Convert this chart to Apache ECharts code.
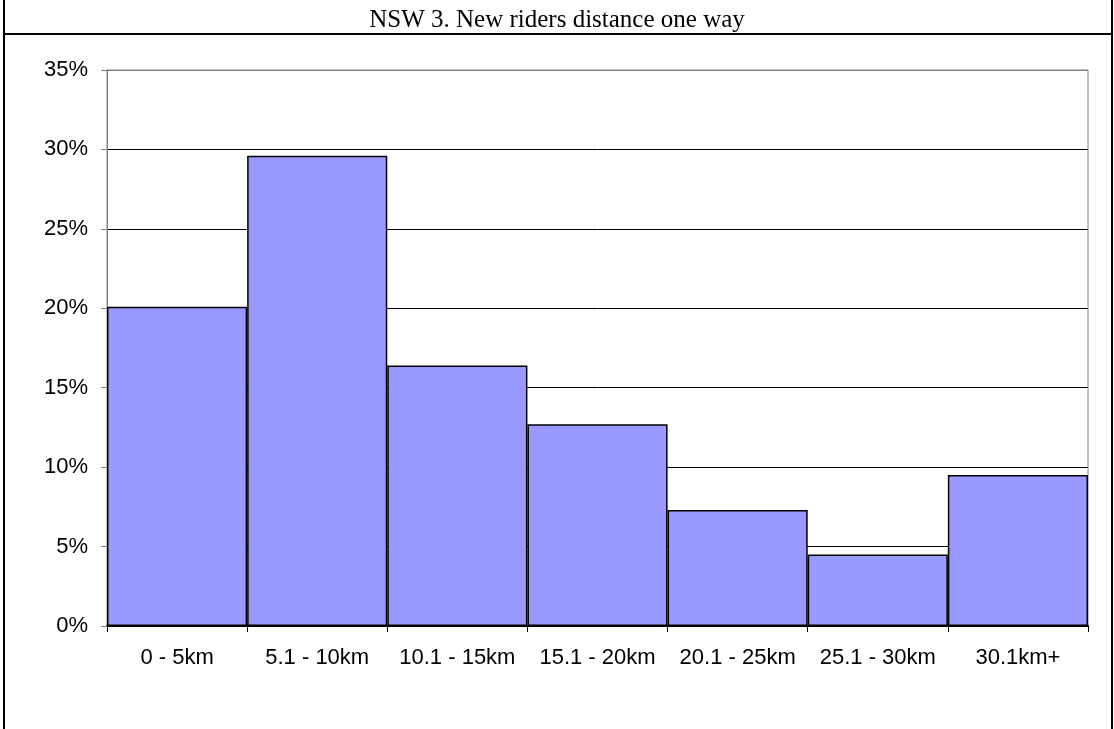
<!DOCTYPE html>
<html>
<head>
<meta charset="utf-8">
<script src="https://cdn.jsdelivr.net/npm/echarts@6/dist/echarts.min.js"></script>
<style>
  html, body { margin: 0; padding: 0; background: #fff; }
  #chart { width: 1114px; height: 729px; }
</style>
</head>
<body>
<div id="chart"></div>
<script>
// distance bands and share of new riders (%)
const categories = ['0 - 5km', '5.1 - 10km', '10.1 - 15km', '15.1 - 20km', '20.1 - 25km', '25.1 - 30km', '30.1km+']
const shares = [20.1, 29.6, 16.4, 12.7, 7.3, 4.5, 9.5]
const yTicks = [0, 5, 10, 15, 20, 25, 30, 35]

const chart = echarts.init(document.getElementById('chart'))
chart.setOption({
  backgroundColor: '#fff',
  animation: false,
  title: {
    text: 'NSW 3. New riders distance one way',
    left: 'center',
    top: 3,
    textStyle: {
      fontFamily: 'Liberation Serif',
      fontWeight: 'normal',
      fontSize: 25,
      color: '#000',
    },
  },
  graphic: [
    // outer frame and title separator
    { type: 'line', shape: { x1: 4, y1: 0, x2: 4, y2: 729 }, style: { stroke: '#000', lineWidth: 2 } },
    { type: 'line', shape: { x1: 1112, y1: 0, x2: 1112, y2: 729 }, style: { stroke: '#000', lineWidth: 2 } },
    { type: 'line', shape: { x1: 4, y1: 34, x2: 1112, y2: 34 }, style: { stroke: '#000', lineWidth: 2 } },
  ],
  grid: {
    left: 107,
    right: 26,
    top: 70,
    bottom: 103,
    show: true,
    borderColor: '#808080',
    borderWidth: 1,
  },
  xAxis: {
    type: 'category',
    data: categories,
    axisLine: { lineStyle: { color: '#000', width: 2 } },
    axisTick: { show: true, length: 6, lineStyle: { color: '#000' } },
    axisLabel: {
      interval: 0,
      hideOverlap: false,
      color: '#000',
      fontFamily: 'Liberation Sans',
      fontSize: 22,
      margin: 21,
    },
  },
  yAxis: {
    type: 'value',
    min: yTicks[0],
    max: yTicks[yTicks.length - 1],
    interval: 5,
    axisLine: { show: true, lineStyle: { color: '#808080', width: 1 } },
    axisTick: { show: true, length: 6, lineStyle: { color: '#808080' } },
    axisLabel: {
      color: '#000',
      fontFamily: 'Liberation Sans',
      fontSize: 22,
      margin: 19,
      formatter: '{value}%',
    },
    splitLine: {
      show: true,
      lineStyle: {
        color: ['#000', '#000', '#000', '#000', '#000', '#000', '#000', '#808080'],
        width: 1,
      },
    },
  },
  series: [
    {
      type: 'bar',
      data: shares,
      barCategoryGap: 0,
      itemStyle: {
        color: '#9999ff',
        borderColor: '#000',
        borderWidth: 1.5,
      },
    },
  ],
})
</script>
</body>
</html>
